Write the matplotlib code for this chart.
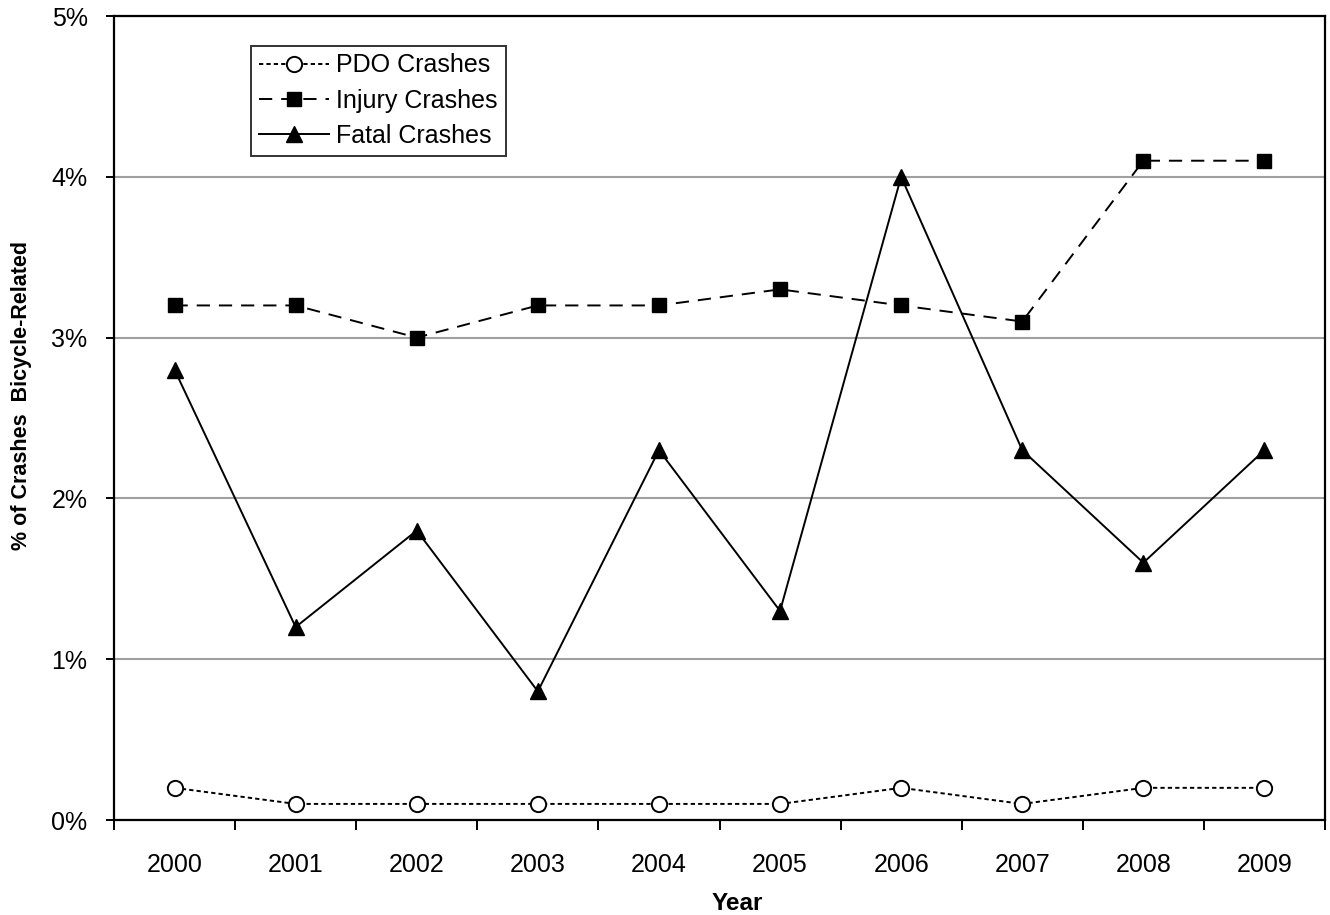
import matplotlib
matplotlib.use("Agg")
import matplotlib.pyplot as plt
from matplotlib.ticker import FixedLocator, FuncFormatter

plt.rcParams['font.family'] = ['Liberation Sans', 'DejaVu Sans']

years = ['2000', '2001', '2002', '2003', '2004', '2005', '2006', '2007', '2008', '2009']
pdo = [0.2, 0.1, 0.1, 0.1, 0.1, 0.1, 0.2, 0.1, 0.2, 0.2]
injury = [3.2, 3.2, 3.0, 3.2, 3.2, 3.3, 3.2, 3.1, 4.1, 4.1]
fatal = [2.8, 1.2, 1.8, 0.8, 2.3, 1.3, 4.0, 2.3, 1.6, 2.3]
series_names = ['PDO Crashes', 'Injury Crashes', 'Fatal Crashes']

W, H = 1330, 915
L, R, T, B = 114, 1325, 16, 820
fig = plt.figure(figsize=(W / 100, H / 100), dpi=100)
ax = fig.add_axes([L / W, 1 - B / H, (R - L) / W, (B - T) / H])

x = list(range(len(years)))
lw = 1.4
ax.plot(x, pdo, linestyle=(0, (2.2, 1.6)), color='black', lw=lw, marker='o',
        markersize=11, markerfacecolor='white', markeredgecolor='black',
        markeredgewidth=1.4, label=series_names[0])
ax.plot(x, injury, linestyle=(0, (6.8, 4.6)), color='black', lw=lw, marker='s',
        markersize=10.5, markerfacecolor='black', markeredgecolor='black',
        label=series_names[1])
ax.plot(x, fatal, linestyle='-', color='black', lw=lw, marker='^',
        markersize=11.5, markerfacecolor='black', markeredgecolor='black',
        label=series_names[2])

ax.set_xlim(-0.5, len(years) - 0.5)
ax.set_ylim(0, 5)
ax.yaxis.set_major_locator(FixedLocator([0, 1, 2, 3, 4, 5]))
ax.yaxis.set_major_formatter(FuncFormatter(lambda v, p: f"{int(round(v))}%"))
ax.grid(axis='y', color='#a0a0a0', lw=1.5)
ax.set_axisbelow(True)

ax.set_xticks([i - 0.5 for i in range(len(years) + 1)])
ax.set_xticklabels([])
ax.set_xticks(x, minor=True)
ax.set_xticklabels(years, minor=True)
ax.tick_params(axis='x', which='major', direction='out', length=7, width=1.4)
ax.tick_params(axis='x', which='minor', length=0, pad=24, labelsize=18)
ax.tick_params(axis='y', direction='out', length=6, width=1.4, labelsize=18, pad=13)

for s in ax.spines.values():
    s.set_linewidth(1.6)
    s.set_color('black')

ax.set_xlabel('Year', fontsize=17.5, fontweight='bold')
ax.xaxis.set_label_coords((737 - L) / (R - L), -(904 - B) / (B - T), transform=ax.transAxes)
ax.xaxis.label.set_verticalalignment('center')
ax.set_ylabel('% of Crashes  Bicycle-Related', fontsize=15.5, fontweight='bold')
ax.yaxis.set_label_coords(-(L - 22) / (R - L), (B - 395) / (B - T), transform=ax.transAxes)
ax.yaxis.label.set_verticalalignment('center')

leg = ax.legend(loc='upper left', bbox_to_anchor=(251 / W, 1 - 46 / H),
                bbox_transform=fig.transFigure, fontsize=18, frameon=True,
                fancybox=False, edgecolor='black', handlelength=2.8,
                handletextpad=0.32, borderpad=0.3, labelspacing=0.45,
                borderaxespad=0)
leg.get_frame().set_linewidth(1.4)

fig.savefig('out.png', dpi=100)
